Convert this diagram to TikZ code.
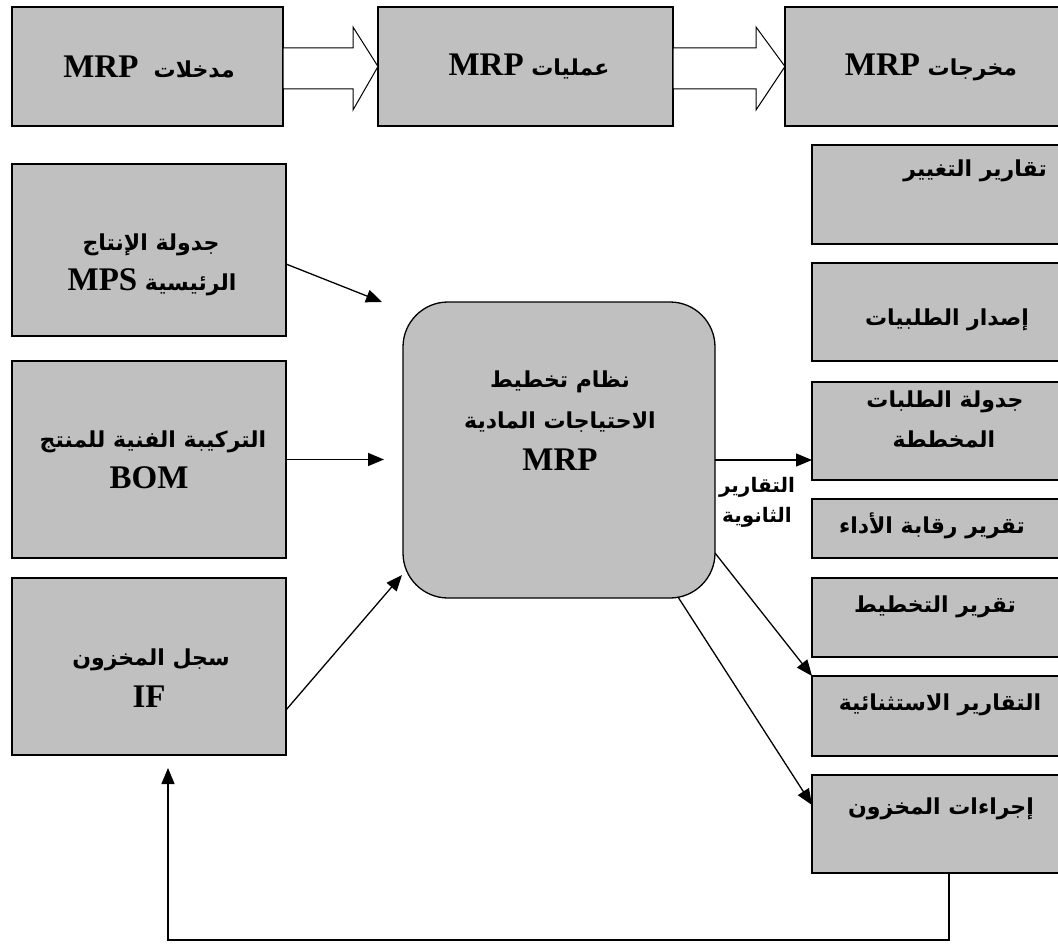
\documentclass[tikz,border=0pt]{standalone}
\usepackage{fontspec}
\usetikzlibrary{arrows.meta,calc}
\TeXXeTstate=1
\newfontfamily\arfont[Script=Arabic]{DejaVu Sans Bold}
\newfontfamily\latfont{Liberation Serif}
\definecolor{boxgray}{HTML}{C0C0C0}
\newcommand{\AR}[1]{{\arfont\fontsize{22}{26}\selectfont\beginR #1\endR}}
\newcommand{\ARs}[1]{{\arfont\fontsize{20}{24}\selectfont\beginR #1\endR}}
\newcommand{\LT}[1]{\beginL{\latfont\bfseries\fontsize{33}{37}\selectfont #1}\endL}
\newcommand{\LW}[1]{{\latfont\bfseries\fontsize{33}{37}\selectfont #1}}
\tikzset{
  box/.style={draw, line width=1.3pt, fill=boxgray, inner sep=0pt, outer sep=0pt},
  txt/.style={inner sep=0pt, align=center},
  arr/.style={line width=1.3pt, -{Triangle[length=16pt,width=13pt]}},
  blockarrow/.style={draw, line width=1pt, fill=white}
}
\begin{document}
\begin{tikzpicture}[x=1pt,y=-1pt]
\useasboundingbox (0,0) rectangle (1058,944);
\fill[white] (0,0) rectangle (1058,944);
% top row
\node[box, minimum width=271pt, minimum height=119pt] (inp) at (147.5,66.5) {};
\node[box, minimum width=295pt, minimum height=119pt] (proc) at (525.5,66.5) {};
\node[box, minimum width=292pt, minimum height=119pt] (outp) at (931,66.5) {};
\draw[blockarrow] (inp.east |- 0,48) -- (353,48) -- (353,27) -- (proc.west) -- (353,110) -- (353,89) -- (inp.east |- 0,89) -- cycle;
\draw[blockarrow] (proc.east |- 0,48) -- (756,48) -- (756,27) -- (outp.west) -- (756,110) -- (756,89) -- (proc.east |- 0,89) -- cycle;
\node[txt] (tinp) at (149,67) {\AR{مدخلات\ \ \LT{MRP}}};
\node[txt] (tproc) at (529,67) {\AR{عمليات \LT{MRP}}};
\node[txt] (toutp) at (931,67) {\AR{مخرجات \LT{MRP}}};
% left column
\node[box, minimum width=274pt, minimum height=172pt] (mps) at (149,250) {};
\node[box, minimum width=274pt, minimum height=197pt] (bom) at (149,459.5) {};
\node[box, minimum width=274pt, minimum height=177pt] (ifb) at (149,666.5) {};
\node[txt] (mpsa) at (151,245) {\AR{جدولة الإنتاج}};
\node[txt] (mpsb) at (152,282) {\AR{الرئيسية \LT{MPS}}};
\node[txt] (boma) at (153,442) {\AR{التركيبة الفنية للمنتج}};
\node[txt] (bomb) at (149,478) {\LW{BOM}};
\node[txt] (ifa) at (151,660) {\AR{سجل المخزون}};
\node[txt] (ifbt) at (149,697) {\LW{IF}};
% central
\node[box, rounded corners=45pt, minimum width=312pt, minimum height=296pt] (mrp) at (559,450) {};
\node[txt] (mrpa) at (560,382) {\AR{نظام تخطيط}};
\node[txt] (mrpb) at (560,422) {\AR{الاحتياجات المادية}};
\node[txt] (mrpc) at (560,460) {\LW{MRP}};
% right column
\node[box, minimum width=258pt, minimum height=99pt] (r1) at (941,194.5) {};
\node[box, minimum width=258pt, minimum height=98pt] (r2) at (941,312) {};
\node[box, minimum width=258pt, minimum height=98pt] (r3) at (941,431) {};
\node[box, minimum width=258pt, minimum height=59pt] (r4) at (941,528.5) {};
\node[box, minimum width=258pt, minimum height=79pt] (r5) at (941,617.5) {};
\node[box, minimum width=258pt, minimum height=80pt] (r6) at (941,716) {};
\node[box, minimum width=258pt, minimum height=98pt] (r7) at (941,824) {};
\node[txt, anchor=east] (r1t) at (1047,171) {\AR{تقارير التغيير}};
\node[txt] (r2t) at (947,320) {\AR{إصدار الطلبيات}};
\node[txt] (r3a) at (945,402) {\AR{جدولة الطلبات}};
\node[txt] (r3b) at (944,439) {\AR{المخططة}};
\node[txt] (r4t) at (932,526) {\AR{تقرير رقابة الأداء}};
\node[txt] (r5t) at (935,607) {\AR{تقرير التخطيط}};
\node[txt] (r6t) at (940,705) {\AR{التقارير الاستثنائية}};
\node[txt] (r7t) at (941,809) {\AR{إجراءات المخزون}};
\node[txt] (seca) at (757,487) {\ARs{التقارير}};
\node[txt] (secb) at (757,517) {\ARs{الثانوية}};
% connectors
\coordinate (mpstip) at (382,302);
\draw[arr] ($(mps.east)+(0,14)$) -- (mpstip);
\draw[arr] (bom.east) -- (bom.east -| 384,0);
\coordinate (iftip) at (402,575);
\draw[arr] ($(ifb.east)+(0,43.5)$) -- (iftip);
\draw[arr] (mrp.east |- 0,460) -- (r3.west |- 0,460);
\draw[arr] (715,553) -- (r6.north west);
\draw[arr] (678,597) -- (r7.west |- 0,805);
\coordinate (fbcorner) at (168,940);
\coordinate (fbtip) at (168,768);
\draw[arr] ($(r7.south)+(8,0)$) |- (fbcorner) -- (fbtip);
\end{tikzpicture}
\end{document}
